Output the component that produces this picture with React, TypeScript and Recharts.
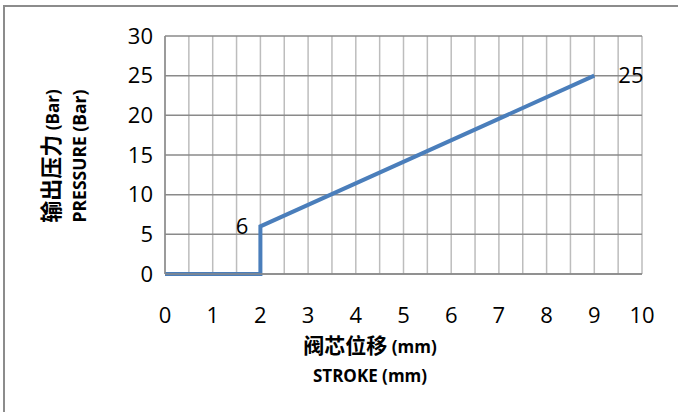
import {
  LineChart,
  Line,
  XAxis,
  YAxis,
  CartesianGrid,
  LabelList,
  Customized,
} from "recharts";

const strokeMm = [0, 2, 2, 9];
const pressureBar = [0, 0, 6, 25];
const pointLabels = ["", "", "6", "25"];

const xGridTicks = [0, 0.5, 1, 1.5, 2, 2.5, 3, 3.5, 4, 4.5, 5, 5.5, 6, 6.5, 7, 7.5, 8, 8.5, 9, 9.5, 10];
const yTicks = [0, 5, 10, 15, 20, 25, 30];

// [chinese part, unit part] and english title
const xTitleCn = ["阀芯位移", " (mm)"];
const xTitleEn = "STROKE (mm)";
const yTitleCn = ["输出压力", " (Bar)"];
const yTitleEn = "PRESSURE (Bar)";

const data = strokeMm.map((x, i) => ({ x, y: pressureBar[i], label: pointLabels[i] }));

const font = "'Open Sans', 'Noto Sans CJK SC', sans-serif";

const PointLabel = (props: any) => {
  const { x, y, value, index } = props;
  if (!value) return null;
  const left = index === 2;
  return (
    <text
      x={left ? x - 12 : x + 24}
      y={y}
      dy="0.35em"
      textAnchor={left ? "end" : "start"}
      fontSize={22}
      fontFamily={font}
      fill="#000"
    >
      {value}
    </text>
  );
};

const Titles = () => (
  <g fontFamily={font} fontWeight="bold" fill="#000">
    <text x={370} y={347} dy="0.35em" textAnchor="middle" fontSize={17}>
      <tspan fontSize={21}>{xTitleCn[0]}</tspan>
      <tspan>{xTitleCn[1]}</tspan>
    </text>
    <text x={370} y={376} dy="0.35em" textAnchor="middle" fontSize={17}>
      {xTitleEn}
    </text>
    <text x={53} y={156} dy="0.35em" textAnchor="middle" fontSize={17} transform="rotate(-90 53 156)">
      <tspan fontSize={22}>{yTitleCn[0]}</tspan>
      <tspan>{yTitleCn[1]}</tspan>
    </text>
    <text x={80} y={156} dy="0.35em" textAnchor="middle" fontSize={17.5} transform="rotate(-90 80 156)">
      {yTitleEn}
    </text>
  </g>
);

const App = () => {
  return (
    <div
      style={{
        position: "fixed",
        left: 0,
        top: 0,
        width: 678,
        height: 412,
        background: "#fff",
        overflow: "hidden",
      }}
    >
      <div
        style={{
          position: "absolute",
          left: 3,
          top: 5,
          width: 720,
          height: 450,
          borderTop: "2px solid #8c8c8c",
          borderLeft: "2px solid #8c8c8c",
        }}
      />
      <LineChart
        width={678}
        height={412}
        data={data}
        margin={{ top: 36, right: 36, bottom: 0, left: 0 }}
        style={{ position: "absolute", left: 0, top: 0 }}
      >
        <CartesianGrid horizontal={false} stroke="#bdbdbd" strokeWidth={1.5} />
        <CartesianGrid vertical={false} stroke="#8a8a8a" strokeWidth={1.5} />
        <XAxis
          type="number"
          dataKey="x"
          domain={[0, 10]}
          ticks={xGridTicks}
          interval={0}
          tickFormatter={(v: number) => (Number.isInteger(v) ? String(v) : "")}
          tickLine={false}
          tickSize={0}
          tickMargin={33}
          axisLine={{ stroke: "#8a8a8a", strokeWidth: 1.5 }}
          height={138}
          tick={{ fill: "#000", fontSize: 22, fontFamily: font }}
        />
        <YAxis
          type="number"
          domain={[0, 30]}
          ticks={yTicks}
          interval={0}
          tickLine={false}
          tickSize={0}
          tickMargin={12}
          axisLine={{ stroke: "#8a8a8a", strokeWidth: 1.5 }}
          width={165}
          tick={{ fill: "#000", fontSize: 22, fontFamily: font }}
        />
        <Line
          type="linear"
          dataKey="y"
          stroke="#4a7ebb"
          strokeWidth={4}
          dot={false}
          isAnimationActive={false}
        >
          <LabelList dataKey="label" content={PointLabel} />
        </Line>
        <Customized component={Titles} />
      </LineChart>
    </div>
  );
};

export default App;
